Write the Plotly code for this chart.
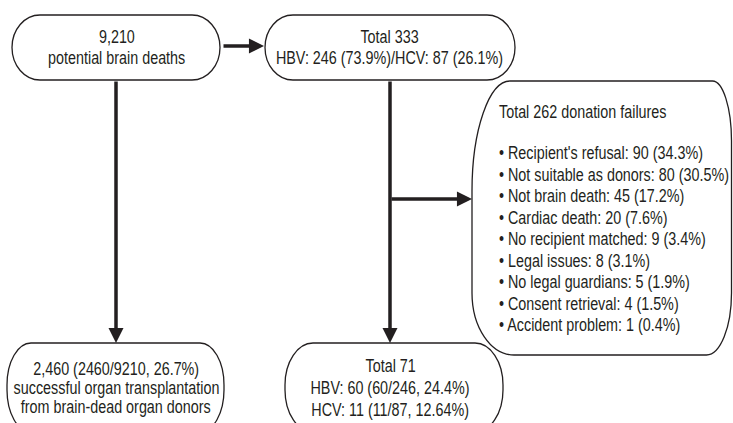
import plotly.graph_objects as go

# ---- data ----
total_potential = 9210
hbv_total, hcv_total = 246, 87
total_candidates = 333
hbv_pct, hcv_pct = 73.9, 26.1
successful_all = 2460
successful_all_pct = 26.7
total_success = 71
hbv_success, hbv_success_pct = 60, 24.4
hcv_success, hcv_success_pct = 11, 12.64
total_failures = 262
failure_reasons = ["Recipient's refusal", "Not suitable as donors", "Not brain death",
                   "Cardiac death", "No recipient matched", "Legal issues",
                   "No legal guardians", "Consent retrieval", "Accident problem"]
failure_counts = [90, 80, 45, 20, 9, 8, 5, 4, 1]
failure_pcts = [34.3, 30.5, 17.2, 7.6, 3.4, 3.1, 1.9, 1.5, 0.4]

# ---- text lines of each node ----
lines_box1 = [f"{total_potential:,}", "potential brain deaths"]
lines_box2 = [f"Total {total_candidates}",
              f"HBV: {hbv_total} ({hbv_pct}%)/HCV: {hcv_total} ({hcv_pct}%)"]
lines_box3 = [f"{successful_all:,} ({successful_all}/{total_potential}, {successful_all_pct}%)",
              "successful organ transplantation", "from brain-dead organ donors"]
lines_box5 = [f"Total {total_success}",
              f"HBV: {hbv_success} ({hbv_success}/{hbv_total}, {hbv_success_pct}%)",
              f"HCV: {hcv_success} ({hcv_success}/{hcv_total}, {hcv_success_pct}%)"]
lines_box4 = [f"Total {total_failures} donation failures"] + [
    f"• {r}: {c} ({p}%)" for r, c, p in zip(failure_reasons, failure_counts, failure_pcts)]

INK = "#231f20"
FONT = "Liberation Sans, Arial, sans-serif"
FS = 17.5
K = 0.5523


def box_path(x0, x1, y0, y1, tl, tr, br, bl):
    (a1, b1), (a2, b2), (a3, b3), (a4, b4) = tl, tr, br, bl
    p = f"M {x0 + a1},{y0} L {x1 - a2},{y0} "
    p += f"C {x1 - a2 + K * a2},{y0} {x1},{y0 + b2 - K * b2} {x1},{y0 + b2} "
    p += f"L {x1},{y1 - b3} "
    p += f"C {x1},{y1 - b3 + K * b3} {x1 - a3 + K * a3},{y1} {x1 - a3},{y1} "
    p += f"L {x0 + a4},{y1} "
    p += f"C {x0 + a4 - K * a4},{y1} {x0},{y1 - b4 + K * b4} {x0},{y1 - b4} "
    p += f"L {x0},{y0 + b1} "
    p += f"C {x0},{y0 + b1 - K * b1} {x0 + a1 - K * a1},{y0} {x0 + a1},{y0} Z"
    return p


boxes = [
    (12, 220, 15, 80, (28, 32.5), (28, 32.5), (28, 32.5), (28, 32.5)),
    (265, 515, 15, 80, (28, 32.5), (28, 32.5), (28, 32.5), (28, 32.5)),
    (7, 224, 343, 432, (24, 42), (24, 42), (24, 42), (24, 42)),
    (285, 503, 343, 432, (28, 42), (28, 42), (28, 42), (28, 42)),
    (472, 731.5, 81, 355, (38, 110), (19, 60), (25, 62), (42, 62)),
]

fig = go.Figure()
fig.add_trace(go.Scatter(x=[0, 733], y=[0, 423], mode="markers",
                         marker=dict(opacity=0), hoverinfo="skip", showlegend=False))

for b in boxes:
    fig.add_shape(type="path", path=box_path(*b), line=dict(color=INK, width=1.3),
                  fillcolor="rgba(0,0,0,0)", xref="x", yref="y")

# (lines, x, y-centres, anchor)
placements = [
    (lines_box1, 116.5, [37, 58], "center"),
    (lines_box2, 389, [37, 58], "center"),
    (lines_box3, 116, [369, 388, 407], "center"),
    (lines_box5, 390, [366, 388, 409.5], "center"),
    (lines_box4, 497, [111.5, 153, 174.5, 196, 217.5, 239, 260.5, 282, 303.5, 325], "left"),
]
for lines, x, ys, anchor in placements:
    for t, y in zip(lines, ys):
        fig.add_annotation(x=x, y=y, text=t, showarrow=False, xanchor=anchor, align=anchor,
                           yanchor="middle", font=dict(family=FONT, size=FS, color=INK))

arrows = [
    (222, 46, 264, 46),
    (116, 80, 116, 343),
    (390, 80, 390, 343),
    (390, 199, 472, 199),
]
for ax, ay, x, y in arrows:
    fig.add_annotation(x=x, y=y, ax=ax, ay=ay, xref="x", yref="y", axref="x", ayref="y",
                       text="", showarrow=True, arrowhead=2, arrowsize=0.86,
                       arrowwidth=3.5, arrowcolor=INK, standoff=0, startstandoff=0)

fig.update_xaxes(range=[0, 733], visible=False)
fig.update_yaxes(range=[423, 0], visible=False)
fig.update_layout(width=733, height=423, margin=dict(l=0, r=0, t=0, b=0),
                  paper_bgcolor="white", plot_bgcolor="white", showlegend=False)

# page tweaks: no body margin; narrow (condensed) rendering of the labels
post = """
var s = document.createElement('style');
s.textContent = 'body{margin:0;overflow:hidden}' +
  ' .annotation-text{transform-box:fill-box;transform-origin:center;transform:scaleX(0.82)}' +
  ' .annotation-text[text-anchor="start"]{transform-origin:left center}';
document.head.appendChild(s);
"""
fig.write_html("out.html", post_script=post, config={"displayModeBar": False})
